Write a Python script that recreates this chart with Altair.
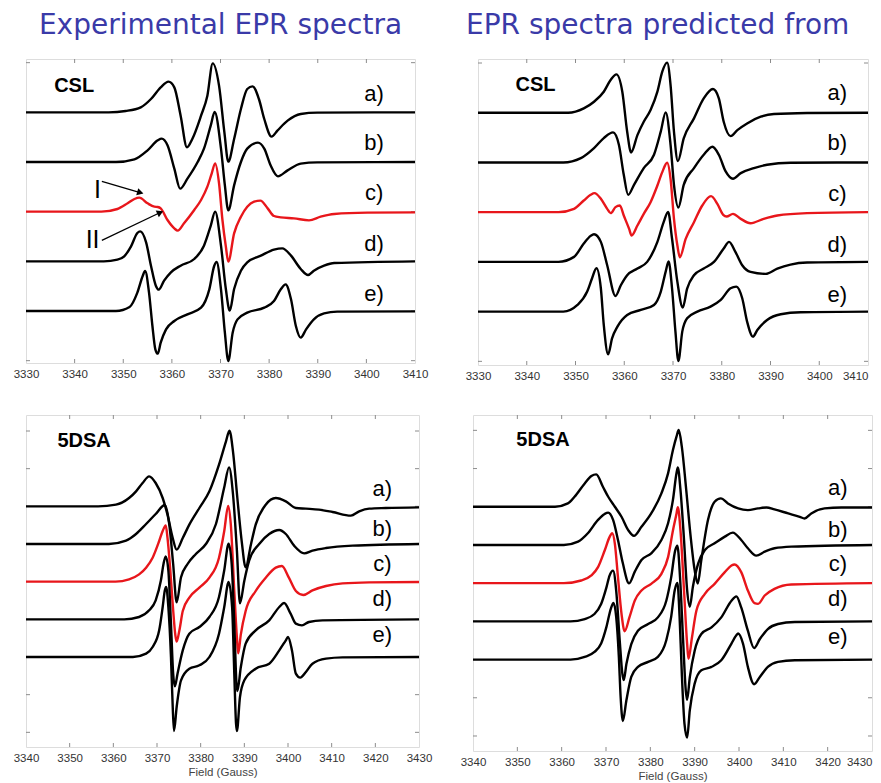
import altair as alt
import pandas as pd

# ---------------- data (field in Gauss, signal in arbitrary units) ----------------
CURVES = ["a", "b", "c", "d", "e"]
CURVE_LABELS = ["a)", "b)", "c)", "d)", "e)"]

# Panel 1: experimental CSL
exp_csl_a = [(3330,0),(3347,0),(3350.5,4),(3353.6,15),(3355.7,40),(3357.7,75),(3359.3,92),(3360.5,75),(3361.8,-10),(3363.1,-105),(3364.2,-80),(3366.0,-10),(3367.3,50),(3368.4,147),(3369.7,80),(3370.8,-60),(3371.6,-148),(3372.8,-80),(3374.2,10),(3375.5,70),(3376.6,78),(3377.9,40),(3379.0,-20),(3380.5,-73),(3381.7,-55),(3383.8,-25),(3386.5,-5),(3389.9,-1),(3410,0)]
exp_csl_b = [(3330,0),(3348.5,0),(3352.3,8),(3355.0,35),(3357.1,65),(3357.9,70),(3359.1,50),(3360.5,-20),(3361.7,-80),(3363.2,-50),(3365.3,0),(3366.6,40),(3368.0,110),(3368.8,150),(3370.1,40),(3370.9,-70),(3371.6,-145),(3372.8,-70),(3374.2,0),(3375.5,40),(3377.7,58),(3379.0,40),(3380.3,-10),(3381.8,-43),(3383.8,-25),(3386.5,-5),(3389.9,-1),(3410,0)]
exp_csl_c = [(3330,0),(3345.5,0),(3348.8,8),(3350.9,25),(3352.3,38),(3353.3,42),(3355.0,25),(3356.4,15),(3357.1,14),(3357.7,10),(3359.1,-25),(3360.5,-50),(3361.2,-57),(3362.5,-35),(3364.6,5),(3366.0,35),(3367.3,75),(3368.2,115),(3368.9,145),(3369.7,85),(3370.4,-25),(3371.1,-105),(3371.6,-150),(3372.8,-65),(3374.2,-15),(3375.5,15),(3376.9,30),(3378.2,33),(3379.7,10),(3381.0,-13),(3382.4,-17),(3385.1,-20),(3388.2,-26),(3390.6,-15),(3393.4,-7),(3400.2,-3),(3410,-2)]
exp_csl_d = [(3330,0),(3346,0),(3348.8,5),(3350.2,15),(3351.6,45),(3352.9,85),(3353.5,90),(3354.7,57),(3355.7,-13),(3356.7,-73),(3357.3,-85),(3358.4,-58),(3359.8,-33),(3361.8,-13),(3364.6,7),(3366.6,47),(3368.0,107),(3368.9,149),(3370.1,47),(3371.1,-83),(3371.9,-148),(3372.8,-83),(3374.2,-28),(3375.5,-3),(3378.3,17),(3381.0,35),(3382.7,39),(3384.5,17),(3386.5,-23),(3388.0,-41),(3389.2,-28),(3391.3,-13),(3393.4,-5),(3410,0)]
exp_csl_e = [(3330,0),(3348.5,0),(3351.3,12),(3352.9,55),(3354.0,105),(3354.5,120),(3355.3,55),(3356.0,-45),(3356.6,-115),(3357.1,-128),(3357.7,-95),(3358.8,-55),(3360.5,-30),(3363.2,-10),(3366.0,10),(3367.7,65),(3368.7,135),(3369.2,147),(3370.1,65),(3370.9,-65),(3371.6,-150),(3372.5,-65),(3373.5,-25),(3375.5,-5),(3379.0,10),(3381.0,30),(3382.4,65),(3383.4,80),(3384.5,35),(3385.5,-45),(3386.5,-80),(3387.6,-55),(3389.2,-25),(3391.3,-7),(3394.0,-2),(3410,-1)]

# Panel 2: predicted CSL
md_csl_a = [(3330,0),(3348.5,0),(3351.7,13),(3353.8,33),(3355.8,63),(3357.2,98),(3358.4,115),(3359.6,63),(3360.6,-57),(3361.4,-119),(3362.7,-67),(3364.0,-27),(3365.4,8),(3366.8,63),(3367.8,123),(3368.8,150),(3369.5,83),(3370.2,-57),(3371.0,-145),(3372.2,-77),(3374.3,-17),(3376.3,43),(3378.2,71),(3379.4,43),(3380.4,-27),(3381.8,-70),(3383.2,-52),(3385.2,-32),(3388.0,-12),(3390.7,-4),(3397.5,-1),(3410,0)]
md_csl_b = [(3330,0),(3347.5,0),(3351.1,13),(3353.8,43),(3355.8,73),(3357.7,90),(3358.9,53),(3359.9,-37),(3360.8,-97),(3362.0,-67),(3364.0,-17),(3366.1,23),(3367.5,93),(3368.5,150),(3369.5,53),(3370.2,-67),(3371.1,-135),(3372.2,-67),(3374.3,-17),(3376.3,23),(3378.1,47),(3379.4,23),(3380.8,-27),(3382.3,-49),(3383.9,-32),(3386.6,-17),(3389.3,-7),(3394.1,-1),(3410,0)]
md_csl_c = [(3330,0),(3346.5,0),(3349.7,10),(3351.7,35),(3353.1,52),(3353.9,57),(3355.2,40),(3356.5,10),(3357.2,-3),(3358.2,15),(3359.1,20),(3359.9,-10),(3361.0,-50),(3361.5,-70),(3362.7,-40),(3364.0,-5),(3365.4,30),(3366.8,80),(3367.8,120),(3368.8,148),(3369.5,100),(3370.2,-20),(3370.9,-100),(3371.4,-135),(3372.6,-80),(3374.3,-30),(3376.0,20),(3377.8,48),(3379.1,25),(3380.3,-8),(3381.0,-13),(3382.3,-5),(3383.9,-20),(3385.9,-33),(3388.6,-20),(3391.4,-10),(3397.5,-3),(3410,0)]
md_csl_d = [(3330,0),(3346.5,0),(3349.7,15),(3351.7,55),(3353.1,78),(3353.8,83),(3355.2,60),(3356.5,-10),(3358.2,-102),(3359.3,-70),(3360.6,-40),(3362.7,-20),(3364.7,0),(3366.8,60),(3368.1,120),(3369.0,150),(3369.8,70),(3370.9,-60),(3372.0,-137),(3372.9,-80),(3374.3,-40),(3376.3,-20),(3378.4,0),(3380.4,40),(3381.5,60),(3382.8,30),(3384.2,-10),(3385.9,-30),(3389.0,-36),(3391.4,-20),(3394.1,-8),(3397.5,-2),(3410,0)]
md_csl_e = [(3330,0),(3347.5,0),(3350.4,20),(3352.4,60),(3353.4,100),(3354.3,130),(3355.2,70),(3355.8,-40),(3356.7,-128),(3357.5,-80),(3358.6,-45),(3360.6,-10),(3363.4,5),(3366.1,20),(3367.5,60),(3368.5,120),(3369.1,150),(3369.8,70),(3370.5,-60),(3371.1,-148),(3371.9,-60),(3372.9,-20),(3375.0,0),(3377.7,15),(3379.8,35),(3381.8,70),(3383.0,75),(3384.2,40),(3385.2,-30),(3386.4,-75),(3387.3,-55),(3389.3,-25),(3392.1,-8),(3396.2,-2),(3410,0)]

# Panel 3: experimental 5DSA
exp_dsa_a = [(3340,0),(3356.5,0),(3360.6,5),(3363.6,25),(3365.2,45),(3366.7,70),(3368.2,90),(3369.7,70),(3371.3,25),(3372.4,-25),(3373.6,-95),(3374.5,-130),(3375.9,-95),(3377.4,-55),(3379.7,-5),(3382.0,45),(3384.2,125),(3385.8,195),(3386.6,227),(3387.4,165),(3388.4,25),(3389.4,-105),(3390.3,-183),(3391.5,-115),(3392.6,-55),(3394.9,5),(3397.2,25),(3399.5,15),(3401.8,-5),(3404.1,-7),(3407.1,-10),(3410.2,-17),(3414.4,-28),(3416.3,-15),(3418.6,-7),(3422.4,-5),(3430,-3)]
exp_dsa_b = [(3340,0),(3359.0,0),(3362.9,10),(3365.2,30),(3367.5,60),(3369.7,90),(3371.8,117),(3372.8,60),(3373.7,-60),(3374.5,-175),(3375.5,-100),(3377.0,-60),(3378.9,-30),(3381.2,0),(3383.5,60),(3385.4,170),(3386.5,230),(3387.4,150),(3388.3,-20),(3389.0,-178),(3390.0,-110),(3391.1,-50),(3393.4,0),(3395.7,30),(3398.0,42),(3399.5,30),(3401.4,-5),(3403.7,-28),(3405.6,-20),(3408.7,-12),(3414.8,-5),(3430,0)]
exp_dsa_c = [(3340,0),(3360.5,0),(3363.6,7),(3365.9,22),(3367.5,42),(3369.0,72),(3370.5,122),(3371.3,152),(3372.0,169),(3372.4,132),(3373.0,42),(3373.6,-68),(3374.2,-160),(3374.5,-180),(3375.1,-148),(3375.9,-88),(3377.4,-48),(3379.7,-18),(3382.0,12),(3384.2,72),(3385.4,152),(3386.3,227),(3386.9,172),(3387.7,-28),(3388.3,-168),(3388.6,-215),(3389.2,-158),(3390.3,-88),(3392.6,-28),(3394.9,12),(3397.2,42),(3398.6,47),(3400.2,12),(3401.8,-28),(3403.5,-40),(3405.6,-26),(3408.7,-13),(3412.5,-5),(3418.6,-2),(3430,-1)]
exp_dsa_d = [(3340,0),(3362.5,0),(3365.9,7),(3368.2,27),(3369.7,57),(3370.9,117),(3371.5,167),(3372.0,189),(3372.6,147),(3373.2,-13),(3373.7,-163),(3374.1,-201),(3374.7,-163),(3375.9,-93),(3377.4,-43),(3379.7,-23),(3382.0,7),(3384.2,67),(3385.4,147),(3386.4,227),(3387.1,167),(3387.7,-13),(3388.2,-193),(3388.4,-215),(3389.2,-143),(3390.3,-73),(3392.6,-33),(3395.7,-3),(3398.0,37),(3399.1,49),(3400.6,17),(3401.8,-13),(3403.2,-18),(3404.8,-8),(3407.9,-3),(3430,0)]
exp_dsa_e = [(3340,0),(3364.5,0),(3367.5,10),(3369.0,30),(3370.5,80),(3371.3,150),(3371.8,200),(3372.1,210),(3372.6,150),(3373.2,0),(3373.6,-150),(3373.9,-222),(3374.5,-150),(3375.5,-70),(3377.4,-35),(3379.7,-25),(3382.0,0),(3384.2,70),(3385.4,150),(3386.4,225),(3387.2,150),(3387.7,-50),(3388.1,-200),(3388.3,-222),(3389.0,-120),(3390.0,-70),(3392.6,-35),(3395.7,-20),(3398.0,20),(3399.5,50),(3400.0,60),(3400.9,20),(3401.8,-50),(3402.8,-62),(3404.1,-45),(3405.6,-20),(3408.7,-5),(3412.5,-1),(3430,0)]

# Panel 4: predicted 5DSA
md_dsa_a = [(3340,0),(3358.5,0),(3361.4,10),(3362.9,30),(3365.2,70),(3366.7,92),(3367.8,97),(3369.3,60),(3370.5,30),(3372.0,0),(3373.5,-30),(3375.0,-70),(3376.3,-87),(3378.0,-60),(3380.2,-20),(3382.5,40),(3384.0,100),(3385.1,170),(3385.9,210),(3386.4,230),(3387.1,180),(3388.1,50),(3389.1,-90),(3390.0,-190),(3390.7,-230),(3391.5,-160),(3393.0,-40),(3394.5,15),(3395.9,25),(3397.5,10),(3399.8,-5),(3402.0,-10),(3404.3,-5),(3406.2,-2),(3408.0,-8),(3411.1,-20),(3413.7,-30),(3414.8,-35),(3416.3,-20),(3419.3,-5),(3423.1,-2),(3430,-2)]
md_dsa_b = [(3340,0),(3360.5,0),(3363.7,10),(3365.9,35),(3368.2,75),(3369.7,93),(3370.5,97),(3371.6,75),(3372.7,15),(3373.8,-55),(3375.2,-115),(3376.5,-80),(3378.0,-45),(3380.2,-25),(3382.5,15),(3384.0,65),(3385.1,135),(3385.9,215),(3386.2,232),(3386.8,165),(3387.6,15),(3388.3,-135),(3388.9,-185),(3389.6,-125),(3390.8,-55),(3392.3,-15),(3394.5,5),(3396.8,25),(3398.6,37),(3400.5,15),(3402.0,-10),(3403.9,-32),(3405.8,-20),(3408.0,-10),(3411.8,-5),(3430,0)]
md_dsa_c = [(3340,0),(3360.5,0),(3364.4,8),(3366.7,23),(3368.2,48),(3369.7,98),(3370.8,138),(3371.4,150),(3372.0,118),(3372.7,18),(3373.5,-92),(3374.2,-144),(3375.3,-102),(3376.5,-52),(3378.0,-22),(3380.2,-2),(3382.5,28),(3384.0,78),(3385.1,158),(3385.9,208),(3386.2,228),(3386.8,158),(3387.6,-22),(3388.3,-182),(3388.6,-227),(3389.4,-162),(3390.4,-82),(3392.3,-32),(3394.5,-2),(3396.8,33),(3398.3,53),(3399.0,56),(3400.5,33),(3402.0,-22),(3403.5,-60),(3404.3,-62),(3405.8,-37),(3408.0,-17),(3411.8,-4),(3430,0)]
md_dsa_d = [(3340,0),(3362.0,0),(3365.2,7),(3367.4,22),(3368.9,52),(3370.1,102),(3370.8,137),(3371.6,152),(3372.3,92),(3373.1,-58),(3373.7,-158),(3374.0,-176),(3374.6,-128),(3375.7,-68),(3377.2,-28),(3379.5,-8),(3381.7,12),(3383.6,62),(3384.7,132),(3385.6,212),(3386.1,227),(3386.7,132),(3387.4,-58),(3388.0,-208),(3388.3,-235),(3388.9,-168),(3390.0,-88),(3391.5,-38),(3393.8,-18),(3396.0,12),(3398.3,62),(3399.4,75),(3400.5,42),(3402.0,-28),(3403.4,-80),(3404.7,-53),(3406.5,-23),(3408.8,-8),(3412.6,-2),(3430,0)]
md_dsa_e = [(3340,0),(3362.0,0),(3365.2,8),(3367.4,23),(3368.9,48),(3370.1,98),(3371.1,153),(3371.7,170),(3372.3,128),(3372.9,8),(3373.3,-112),(3373.8,-184),(3374.6,-122),(3375.7,-52),(3377.2,-22),(3379.5,-7),(3381.7,8),(3383.6,58),(3384.7,128),(3385.5,208),(3386.1,230),(3386.6,128),(3387.1,-42),(3387.7,-192),(3388.3,-234),(3388.9,-152),(3390.0,-72),(3391.5,-32),(3393.8,-22),(3396.0,-2),(3398.3,48),(3399.4,73),(3399.8,78),(3400.9,48),(3402.0,-22),(3403.4,-74),(3404.7,-52),(3406.5,-22),(3408.8,-7),(3412.6,-2),(3430,0)]

# vertical offsets of the stacked spectra (a..e) and frame tick values
exp_csl_offsets = [752, 603, 454, 305, 156]
md_csl_offsets = [756, 607, 458, 309, 160]
exp_dsa_offsets = [722, 609, 496, 383, 270]
md_dsa_offsets = [732, 617.5, 503, 388.5, 274]

csl_xticks = [3340, 3350, 3360, 3370, 3380, 3390, 3400]
csl_xlabels = [3330, 3340, 3350, 3360, 3370, 3380, 3390, 3400, 3410]
dsa_xticks = [3350, 3360, 3370, 3380, 3390, 3400, 3410, 3420]
dsa_xlabels = [3340, 3350, 3360, 3370, 3380, 3390, 3400, 3410, 3420, 3430]
exp_csl_yticks = [7, 156, 305, 454, 603, 752, 901]
md_csl_yticks = [11, 160, 309, 458, 607, 756, 905]
exp_dsa_yticks = [44, 157, 270, 383, 496, 609, 722, 835, 948]
md_dsa_yticks = [45, 159.5, 274, 388.5, 503, 617.5, 732, 846.5, 961]

# label positions (field, signal)
exp_csl_label_pos = [(3401.6, 807), (3401.6, 661), (3401.6, 509), (3401.6, 357), (3401.6, 206)]
md_csl_label_pos = [(3403.7, 814), (3403.7, 665), (3403.7, 513), (3403.7, 361), (3403.7, 210)]
exp_dsa_label_pos = [(3421.6, 775), (3421.6, 654), (3421.6, 550), (3421.6, 445), (3421.6, 335)]
md_dsa_label_pos = [(3422.3, 787), (3422.3, 662), (3422.3, 561), (3422.3, 455), (3422.3, 342)]

# annotations I / II in the experimental CSL panel
roman_text = ["I", "II"]
roman_pos = [(3344.7, 520), (3343.7, 370)]
arrow_start = [(3345.6, 545), (3345.6, 368)]
arrow_end = [(3353.3, 512), (3357.4, 450)]
arrow_angle = [106, 65]

TITLE_LEFT = "Experimental EPR spectra"
TITLE_RIGHT = "EPR spectra predicted from MD simulations"
FIELD_TITLE = "Field (Gauss)"

BLACK = "#000000"
RED = "#e8161b"
BLUE = "#3a3aa8"
FRAME = "#8c8c8c"
FONT = "Liberation Sans"
TITLE_FONT = "DejaVu Sans"


def panel(curves, offsets, xdom, ymax, w, h, xticks, xlabels, yticks, name, name_pos,
          label_pos, field_title, title=None, title_x=0, title_align="left", title_limit=0,
          annot=False, last_right=False):
    rows = []
    for key, pts, off in zip(CURVES, curves, offsets):
        for fx, sy in pts:
            rows.append({"curve": key, "field": fx, "y": sy + off})
    df = pd.DataFrame(rows)
    xsc = alt.Scale(domain=xdom, nice=False, zero=False)
    ysc = alt.Scale(domain=[0, ymax], nice=False, zero=False)
    axis_kw = dict(values=xlabels, ticks=False, domain=False, grid=False, labelFontSize=11.5,
                   labelColor="#333333", labelFont=FONT, labelPadding=5, labelFlush=False,
                   title=FIELD_TITLE if field_title else None, titleFontSize=11.5,
                   titleFont=FONT, titleFontWeight="normal", titleColor="#444444",
                   titlePadding=3, format="d", labelOverlap=False)
    if last_right:
        axis_kw["labelAlign"] = {"expr": "datum.value >= %d ? 'right' : 'center'" % xdom[1]}
    xaxis = alt.Axis(**axis_kw)
    X = alt.X("field:Q", scale=xsc, axis=xaxis)
    Y = alt.Y("y:Q", scale=ysc, axis=None)

    lines = alt.Chart(df).mark_line(interpolate="monotone", strokeWidth=2.4, clip=True).encode(
        x=X, y=Y,
        color=alt.Color("curve:N", scale=alt.Scale(domain=CURVES, range=[BLACK, BLACK, RED, BLACK, BLACK]), legend=None),
    )
    xt = pd.DataFrame({"field": xticks})
    yt = pd.DataFrame({"y": yticks})
    tb = alt.Chart(xt).mark_rule(color=FRAME, strokeWidth=1).encode(x=X, y=alt.value(h), y2=alt.value(h - 4))
    tt = alt.Chart(xt).mark_rule(color=FRAME, strokeWidth=1).encode(x=X, y=alt.value(0), y2=alt.value(4))
    tl = alt.Chart(yt).mark_rule(color=FRAME, strokeWidth=1).encode(y=Y, x=alt.value(0), x2=alt.value(4))
    tr = alt.Chart(yt).mark_rule(color=FRAME, strokeWidth=1).encode(y=Y, x=alt.value(w - 4), x2=alt.value(w))

    ldf = pd.DataFrame({"field": [p[0] for p in label_pos], "y": [p[1] for p in label_pos], "t": CURVE_LABELS})
    labels = alt.Chart(ldf).mark_text(fontSize=22, font=FONT, color=BLACK, baseline="middle").encode(
        x=X, y=Y, text="t:N")
    ndf = pd.DataFrame({"field": [name_pos[0]], "y": [name_pos[1]], "t": [name]})
    nm = alt.Chart(ndf).mark_text(fontSize=20, font=FONT, fontWeight="bold", color=BLACK, baseline="middle").encode(
        x=X, y=Y, text="t:N")
    layers = [tb, tt, tl, tr, lines, labels, nm]
    if title:
        tdf = pd.DataFrame({"t": [title]})
        ttl = alt.Chart(tdf).mark_text(fontSize=28, font=TITLE_FONT, color=BLUE, baseline="alphabetic",
                                       align=title_align, limit=title_limit, ellipsis=" ").encode(
            x=alt.value(title_x), y=alt.value(-25), text="t:N")
        layers.append(ttl)
    if annot:
        rdf = pd.DataFrame({"field": [p[0] for p in roman_pos], "y": [p[1] for p in roman_pos], "t": roman_text})
        rom = alt.Chart(rdf).mark_text(fontSize=25, font=FONT, color=BLACK, baseline="middle").encode(
            x=X, y=Y, text="t:N")
        adf = pd.DataFrame({"field": [p[0] for p in arrow_start], "y": [p[1] for p in arrow_start],
                            "field2": [p[0] for p in arrow_end], "y2": [p[1] for p in arrow_end],
                            "ang": arrow_angle})
        ar = alt.Chart(adf).mark_rule(color=BLACK, strokeWidth=1.3).encode(
            x=X, y=Y, x2="field2:Q", y2="y2:Q")
        hd = alt.Chart(adf).mark_point(shape="triangle", filled=True, size=55, color=BLACK, opacity=1).encode(
            x=alt.X("field2:Q", scale=xsc, axis=xaxis), y=alt.Y("y2:Q", scale=ysc, axis=None),
            angle=alt.Angle("ang:Q", scale=None))
        layers += [rom, ar, hd]
    return alt.layer(*layers).properties(width=w, height=h)


p1 = panel([exp_csl_a, exp_csl_b, exp_csl_c, exp_csl_d, exp_csl_e], exp_csl_offsets, [3330, 3410], 912,
           389, 304, csl_xticks, csl_xlabels, exp_csl_yticks, "CSL", (3339.9, 830), exp_csl_label_pos,
           False, TITLE_LEFT, 194.5, "center", 600, annot=True)
p2 = panel([md_csl_a, md_csl_b, md_csl_c, md_csl_d, md_csl_e], md_csl_offsets, [3330, 3410], 917,
           390, 306, csl_xticks, csl_xlabels, md_csl_yticks, "CSL", (3341.8, 840), md_csl_label_pos,
           False, TITLE_RIGHT, -12, "left", 405, last_right=True)
p3 = panel([exp_dsa_a, exp_dsa_b, exp_dsa_c, exp_dsa_d, exp_dsa_e], exp_dsa_offsets, [3340, 3430], 996,
           393, 332, dsa_xticks, dsa_xlabels, exp_dsa_yticks, "5DSA", (3353.3, 918), exp_dsa_label_pos,
           True)
p4 = panel([md_dsa_a, md_dsa_b, md_dsa_c, md_dsa_d, md_dsa_e], md_dsa_offsets, [3340, 3430], 1007,
           399, 336, dsa_xticks, dsa_xlabels, md_dsa_yticks, "5DSA", (3355.8, 932), md_dsa_label_pos,
           True, last_right=True)

row1 = alt.hconcat(p1, p2, spacing=63, bounds="flush").resolve_scale(x="independent", y="independent")
row2 = alt.hconcat(p3, p4, spacing=54, bounds="flush").resolve_scale(x="independent", y="independent")
chart = alt.vconcat(row1, row2, spacing=32).resolve_scale(
    x="independent", y="independent"
).properties(
    padding={"left": 4, "top": 3, "right": 0, "bottom": 0}
).configure_view(stroke=FRAME, strokeWidth=1.3).configure(font=FONT, background="white")

chart.save("out.html", embed_options={"renderer": "svg", "actions": False})
